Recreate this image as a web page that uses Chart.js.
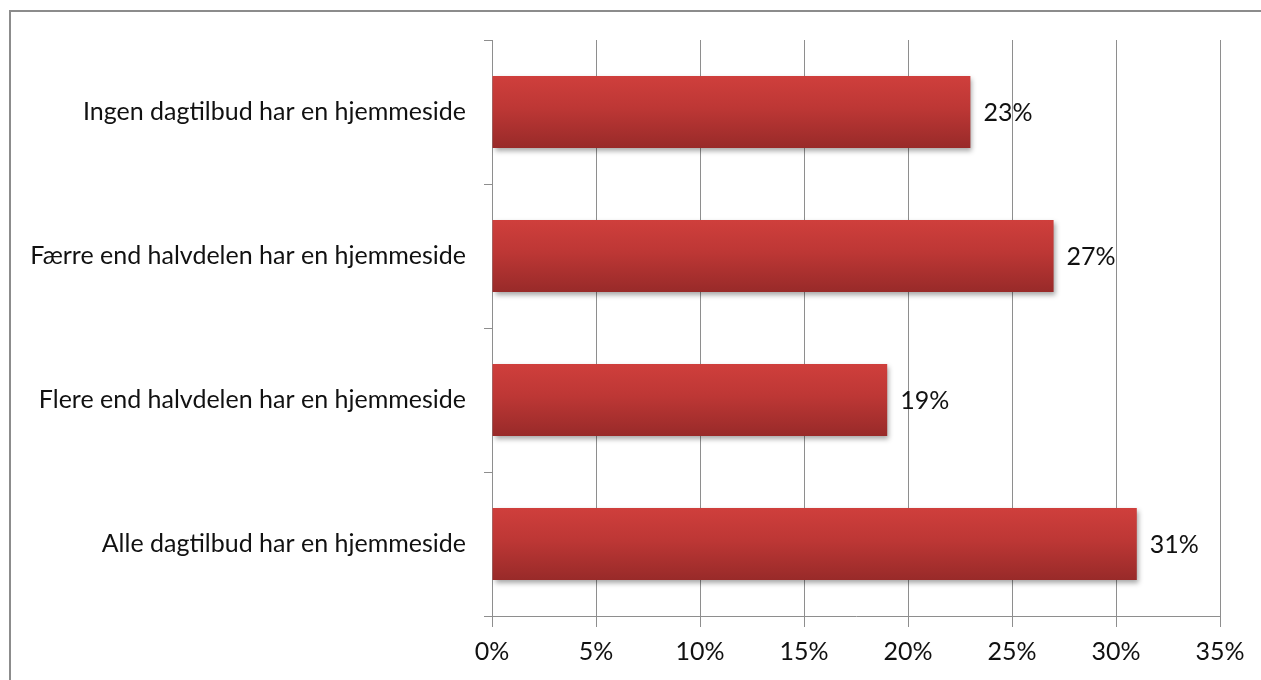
<!DOCTYPE html>
<html>
<head>
<meta charset="utf-8">
<script src="https://cdn.jsdelivr.net/npm/chart.js@4"></script>
<style>
  html,body{margin:0;padding:0;background:#fff;}
  #wrap{position:relative;width:1261px;height:680px;overflow:hidden;}
  #frame{position:absolute;left:9px;top:10px;width:1300px;height:700px;border:2px solid #8c8c8c;box-sizing:border-box;}
  canvas{position:absolute;left:0;top:0;}
</style>
</head>
<body>
<div id="wrap">
  <div id="frame"></div>
  <canvas id="c" width="1261" height="680"></canvas>
</div>
<script>
// categories, top to bottom
const categories = [
  'Ingen dagtilbud har en hjemmeside',
  'Færre end halvdelen har en hjemmeside',
  'Flere end halvdelen har en hjemmeside',
  'Alle dagtilbud har en hjemmeside'
];
const values = [23, 27, 19, 31];
const xTicks = [0, 5, 10, 15, 20, 25, 30, 35];

const FONT = 'Lato, "Open Sans", sans-serif';
const FS = 25;

function barFill(ctx) {
  const chart = ctx.chart;
  const y = chart.scales.y;
  if (!chart.chartArea || !y || ctx.dataIndex == null) return '#c03a38';
  const cy = y.getPixelForValue(ctx.dataIndex);
  const h = 72;
  const g = chart.ctx.createLinearGradient(0, cy - h/2, 0, cy + h/2);
  g.addColorStop(0, '#cf3f3c');
  g.addColorStop(0.45, '#bd3735');
  g.addColorStop(1, '#982a29');
  return g;
}

const shadowPlugin = {
  id: 'shadow',
  beforeDatasetsDraw(chart) {
    const c = chart.ctx;
    c.save();
    c.shadowColor = 'rgba(0,0,0,0.35)';
    c.shadowBlur = 5;
    c.shadowOffsetX = 2;
    c.shadowOffsetY = 3;
  },
  afterDatasetsDraw(chart) {
    const c = chart.ctx;
    c.restore();
    // value labels
    c.save();
    c.font = FS + 'px ' + FONT;
    c.fillStyle = '#111';
    c.textBaseline = 'middle';
    c.textAlign = 'left';
    chart.getDatasetMeta(0).data.forEach((bar, i) => {
      c.fillText(values[i] + '%', bar.x + 13, bar.y + 1);
    });
    c.restore();
  }
};

new Chart(document.getElementById('c'), {
  type: 'bar',
  data: {
    labels: categories,
    datasets: [{
      data: values,
      backgroundColor: barFill,
      borderWidth: 0,
      categoryPercentage: 1,
      barPercentage: 0.5
    }]
  },
  options: {
    indexAxis: 'y',
    responsive: false,
    animation: false,
    layout: { padding: { top: 40, right: 41, left: 0, bottom: 0 } },
    plugins: { legend: { display: false }, tooltip: { enabled: false } },
    scales: {
      x: {
        min: 0, max: 35,
        afterBuildTicks(s) { s.ticks = xTicks.map(v => ({ value: v })); },
        afterFit(s) { s.height = 64; },
        ticks: {
          font: { family: FONT, size: FS },
          color: '#111',
          padding: 10,
          callback: v => v + '%'
        },
        grid: { color: '#8e8e8e', lineWidth: 1, tickLength: 11, drawTicks: true },
        border: { color: '#8e8e8e', width: 1 }
      },
      y: {
        afterFit(s) { s.width = 492; },
        ticks: {
          font: { family: FONT, size: FS },
          color: '#111',
          padding: 18
        },
        grid: { drawOnChartArea: false, offset: true, color: '#8e8e8e', tickLength: 8 },
        border: { color: '#8e8e8e', width: 1 }
      }
    }
  },
  plugins: [shadowPlugin]
});
</script>
</body>
</html>
